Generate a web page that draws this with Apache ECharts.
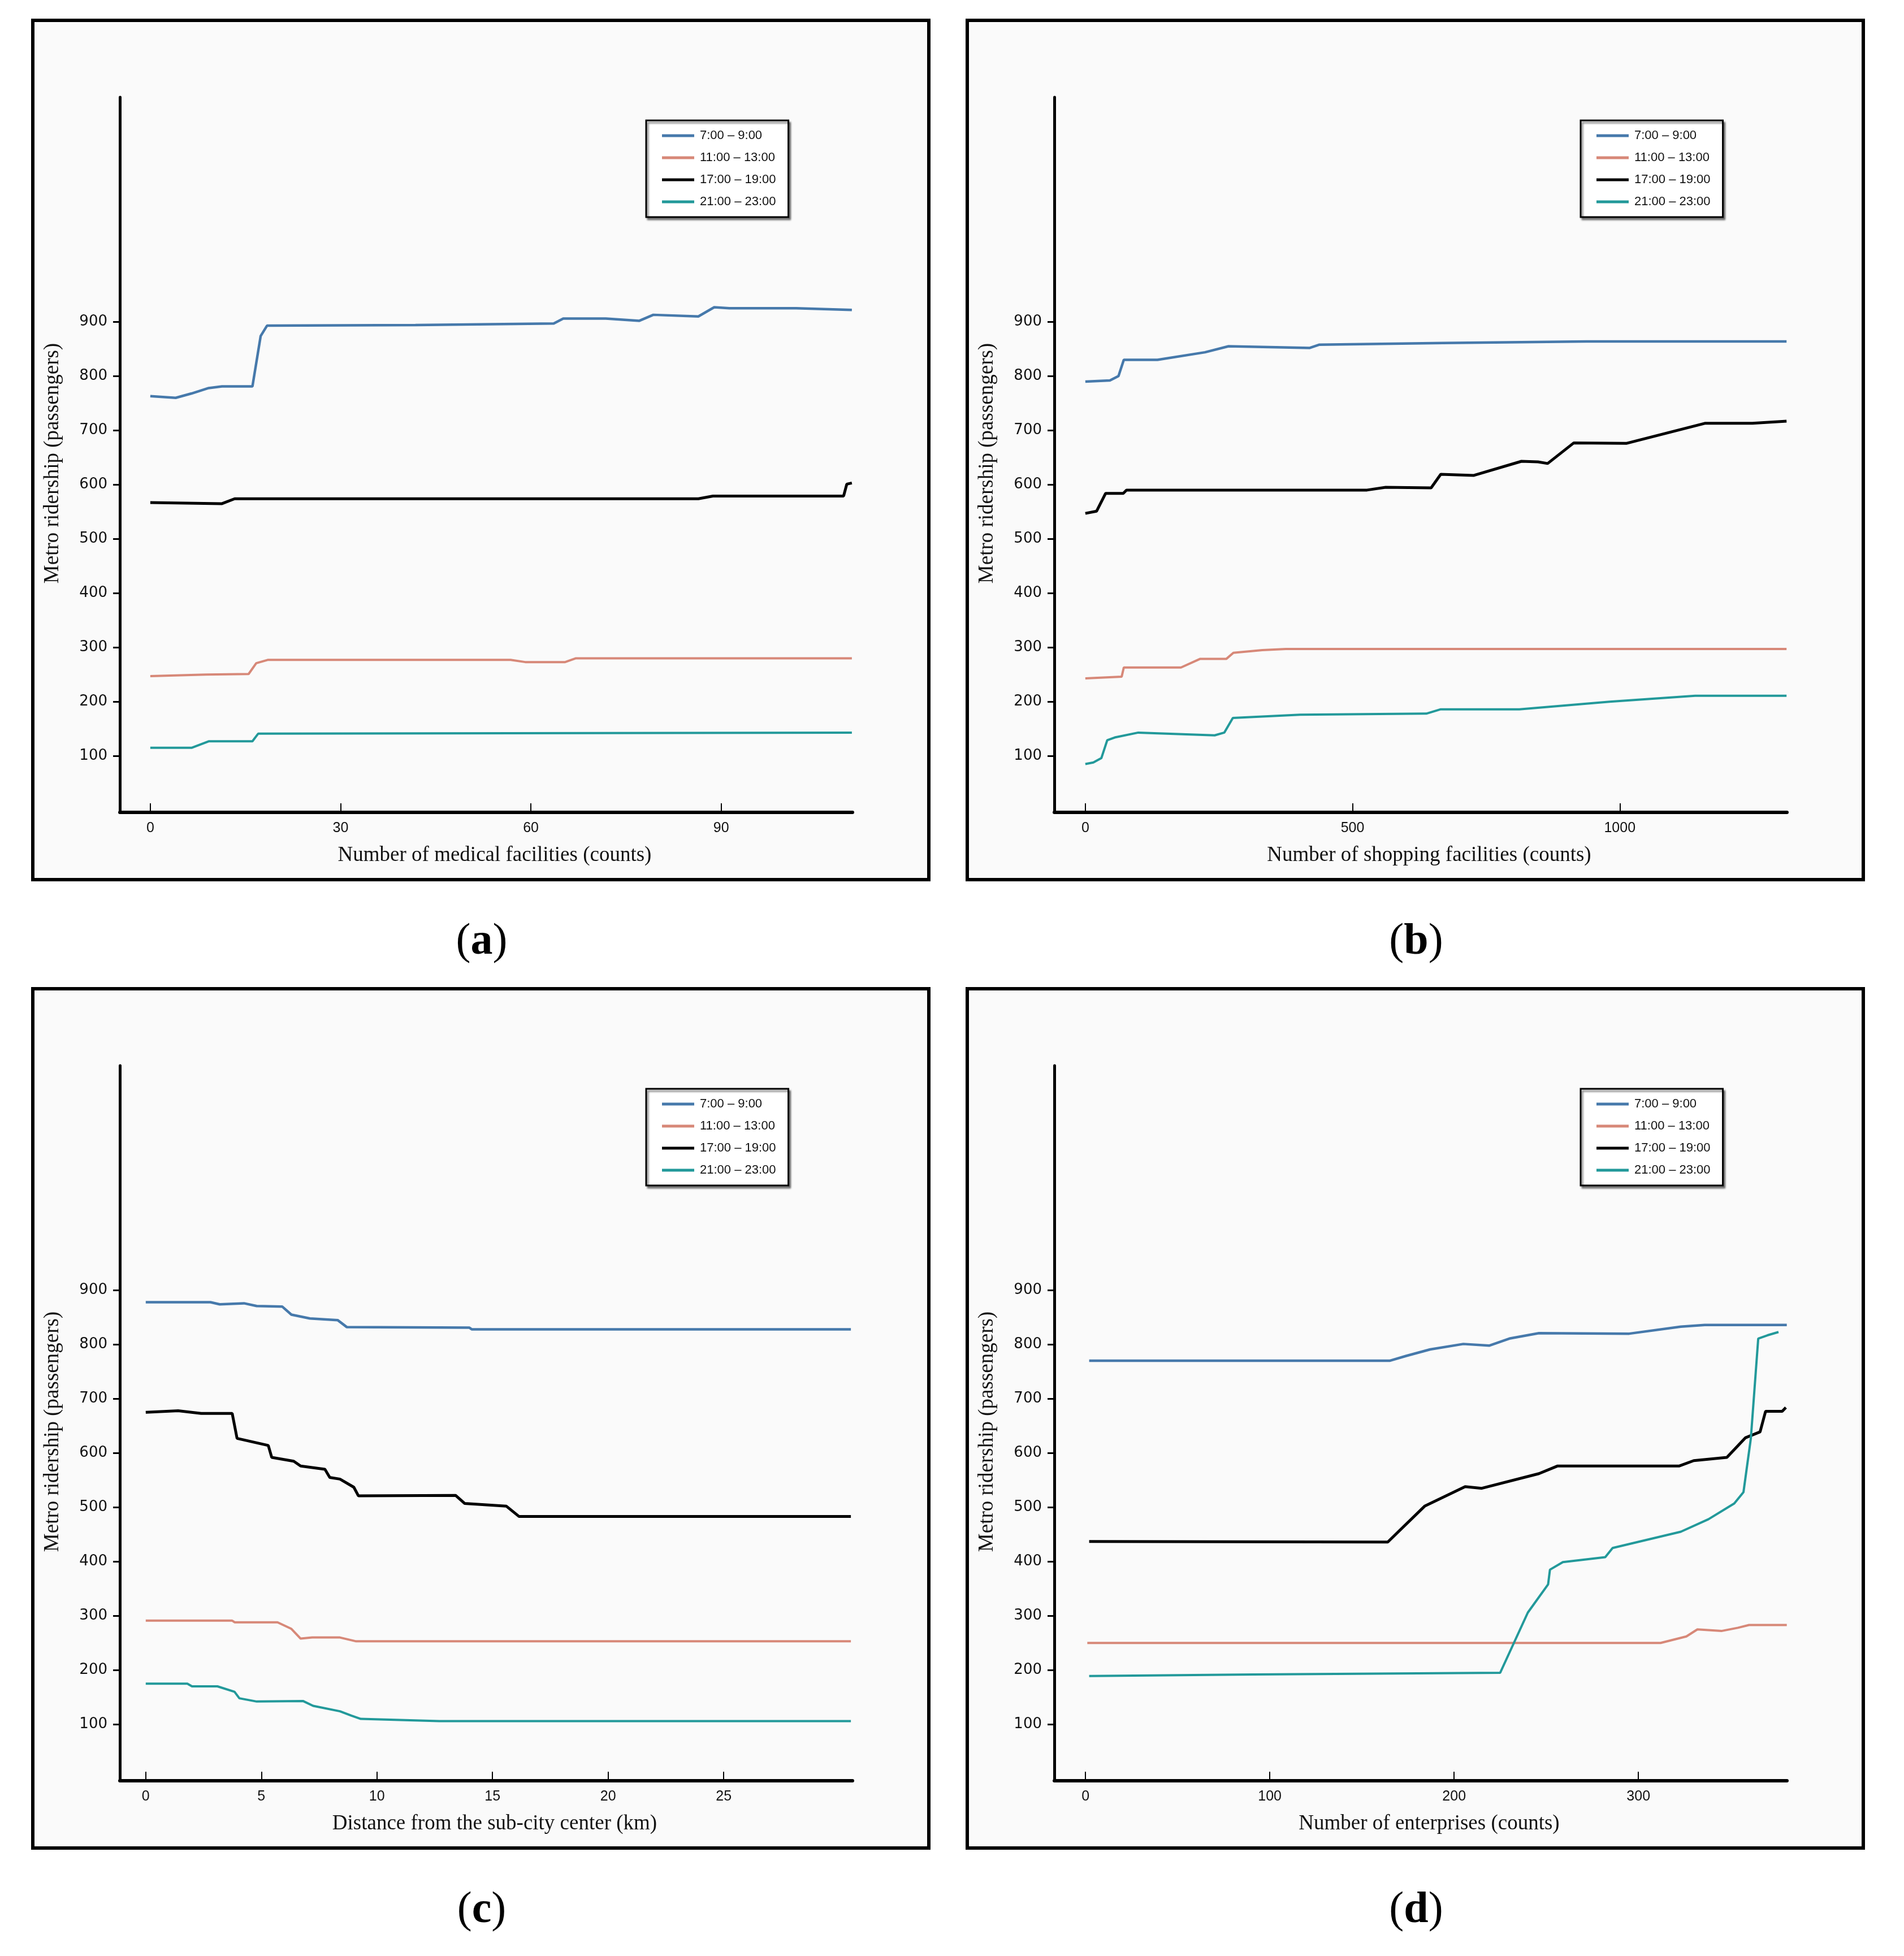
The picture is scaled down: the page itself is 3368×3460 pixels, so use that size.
<!DOCTYPE html>
<html>
<head>
<meta charset="utf-8">
<script src="https://cdn.jsdelivr.net/npm/echarts@6/dist/echarts.min.js"></script>
<style>
html,body{margin:0;padding:0;background:#fff;}
#chart{width:3368px;height:3460px;}
</style>
</head>
<body>
<div id="chart"></div>
<script>
// ---------- DATA ----------
const seriesNames = ['7:00 – 9:00', '11:00 – 13:00', '17:00 – 19:00', '21:00 – 23:00'];
const panelLabels = ['a', 'b', 'c', 'd'];
const xTitles = ['Number of medical facilities (counts)', 'Number of shopping facilities (counts)',
                 'Distance from the sub-city center (km)', 'Number of enterprises (counts)'];
const yTitle = 'Metro ridership (passengers)';
const yTickValues = [100, 200, 300, 400, 500, 600, 700, 800, 900];
const xTicksA = [0, 30, 60, 90];
const xTicksB = [0, 500, 1000];
const xTicksC = [0, 5, 10, 15, 20, 25];
const xTicksD = [0, 100, 200, 300];

// (a) medical facilities
const medBlue = [[0,763],[4,760],[6.5,768],[9.2,778],[11.3,781],[16.1,781],[17.4,874],[18.4,893],[41.8,894],[63.6,897],[65.1,906],[71.8,906],[77.1,902],[79.3,913],[86.4,910],[88.9,927],[91.3,925],[101.8,925],[110.6,922]];
const medSalmon = [[0,247],[8.8,250],[15.5,251],[16.7,271],[18.5,277],[56.8,277],[59.1,273],[65.4,273],[67.1,280],[110.6,280]];
const medBlack = [[0,567],[11.3,565],[13.3,574],[86.4,574],[88.7,579],[109.3,579],[109.8,601],[110.6,603]];
const medTeal = [[0,115],[6.5,115],[9.2,127],[16.1,127],[17,141],[110.6,143]];

// (b) shopping facilities
const shopBlue = [[0,790],[46,792],[62,800],[72,830],[135,830],[224,844],[268,855],[420,852],[438,858],[669,861],[937,864],[1312,864]];
const shopSalmon = [[0,243],[68,246],[72,263],[179,263],[215,279],[264,279],[277,290],[331,295],[375,297],[1312,297]];
const shopBlack = [[0,547],[21,551],[38,584],[71,584],[77,590],[527,590],[562,595],[647,594],[665,619],[727,617],[816,643],[847,642],[865,639],[914,677],[1012,676],[1159,713],[1248,713],[1312,717]];
const shopTeal = [[0,85],[15,88],[30,96],[41,129],[55,134],[99,143],[242,138],[260,143],[276,170],[402,176],[638,178],[665,186],[812,186],[981,200],[1141,211],[1312,211]];

// (c) distance from sub-city center
const distBlue = [[0,878],[2.8,878],[3.2,874],[4.25,876],[4.8,871],[5.9,870],[6.3,855],[7.1,848],[8.3,845],[8.7,832],[14.0,831],[14.1,828],[30.5,828]];
const distSalmon = [[0,291],[3.74,291],[3.85,288],[5.7,288],[6.3,276],[6.7,258],[7.2,260],[8.4,260],[9.1,253],[30.5,253]];
const distBlack = [[0,675],[1.4,678],[2.4,673],[3.74,673],[3.95,627],[5.3,614],[5.45,592],[6.4,585],[6.7,576],[7.75,570],[7.96,555],[8.4,552],[9.0,537],[9.2,521],[13.4,522],[13.8,507],[15.6,502],[16.15,483],[30.5,483]];
const distTeal = [[0,175],[1.8,175],[2.0,170],[3.1,170],[3.84,160],[4.05,148],[4.8,142],[6.8,143],[7.24,134],[8.4,124],[8.9,116],[9.3,110],[12.7,106],[30.5,106]];

// (d) enterprises
const entBlue = [[2,770],[165,770],[174,779],[187,791],[205,801],[219,798],[230,811],[246,821],[295,820],[323,833],[336,836],[380.5,836]];
const entSalmon = [[1,250],[312,250],[326,262],[332,275],[345,272],[354,278],[360,283],[380.5,283]];
const entBlack = [[2,437],[164,436],[184,502],[206,538],[215,535],[246,562],[256,576],[322,576],[330,586],[348,592],[358,628],[366,639],[369,677],[378,677],[380,684]];
const entTeal = [[2,189],[91,192],[225,195],[240,306],[251,358],[252,385],[259,399],[282,408],[286,425],[323,455],[338,478],[352,507],[357,528],[361,627],[365,811],[370,817],[376,823]];

// ---------- STYLE / LAYOUT ----------
const colors = ['#4679ab', '#d78878', '#000000', '#22999a'];
const lineWidths = [4.5, 4, 5, 4];
const panels = [
  {data:[medBlue, medSalmon, medBlack, medTeal], xMin:-4.8, xMax:110.7, ticks:xTicksA, dx:0, dy:0},
  {data:[shopBlue, shopSalmon, shopBlack, shopTeal], xMin:-58, xMax:1312.8, ticks:xTicksB, dx:1653, dy:0},
  {data:[distBlue, distSalmon, distBlack, distTeal], xMin:-1.12, xMax:30.57, ticks:xTicksC, dx:0, dy:1713},
  {data:[entBlue, entSalmon, entBlack, entTeal], xMin:-16.9, xMax:380.6, ticks:xTicksD, dx:1653, dy:1713}
];

const grids = [], xAxes = [], yAxes = [], series = [], legends = [], graphics = [];
panels.forEach((p, i) => {
  grids.push({left: 212 + p.dx, top: 172 + p.dy, width: 1296, height: 1265});
  xAxes.push({
    type:'value', gridIndex:i, min:p.xMin, max:p.xMax,
    axisLine:{show:true, onZero:false, lineStyle:{color:'#000', width:6}},
    axisTick:{show:true, inside:true, length:16, lineStyle:{color:'#000', width:2}, customValues:p.ticks},
    axisLabel:{show:true, customValues:p.ticks, margin:16, fontSize:25, color:'#111', fontFamily:'Liberation Sans',
               formatter:(v) => String(v)},
    splitLine:{show:false},
    name:xTitles[i], nameLocation:'middle', nameGap:58,
    nameTextStyle:{fontFamily:'Liberation Serif', fontSize:37, color:'#111', padding:[0,0,0,30]}
  });
  yAxes.push({
    type:'value', gridIndex:i, min:-4, max:1314,
    axisLine:{show:true, onZero:false, lineStyle:{color:'#000', width:5}},
    axisTick:{show:true, inside:false, length:12, lineStyle:{color:'#000', width:3}, customValues:yTickValues},
    axisLabel:{show:true, customValues:yTickValues, margin:22, fontSize:26, color:'#111', fontFamily:'DejaVu Sans',
               formatter:(v) => String(v)},
    splitLine:{show:false},
    name:yTitle, nameLocation:'middle', nameGap:100,
    nameTextStyle:{fontFamily:'Liberation Serif', fontSize:37, color:'#111', padding:[0,30,0,0]}
  });
  p.data.forEach((d, k) => {
    series.push({
      type:'line', name:seriesNames[k], xAxisIndex:i, yAxisIndex:i, data:d,
      showSymbol:false, symbol:'none', clip:false, z:3,
      lineStyle:{color:colors[k], width:lineWidths[k]}, itemStyle:{color:colors[k]}
    });
  });
  legends.push({
    show:true, orient:'vertical', left:1143 + p.dx, top:213 + p.dy, data:seriesNames,
    icon:'rect', itemWidth:57, itemHeight:5, itemGap:17,
    padding:[16, 22, 16, 28], backgroundColor:'#fff', borderColor:'#000', borderWidth:3,
    shadowColor:'rgba(0,0,0,0.45)', shadowBlur:3, shadowOffsetX:3, shadowOffsetY:4,
    selectedMode:false,
    textStyle:{fontFamily:'Liberation Sans', fontSize:22, color:'#111', lineHeight:22, padding:[0,0,0,5]}
  });
  graphics.push({
    type:'rect', z:-10,
    shape:{x:58 + p.dx, y:36 + p.dy, width:1585, height:1520},
    style:{fill:'#fafafa', stroke:'#000', lineWidth:6}
  });
  graphics.push({
    type:'text', z:10,
    x:852 + p.dx, y:1667 + p.dy,
    style:{
      text:'{p|(}{b|' + panelLabels[i] + '}{p|)}',
      align:'center', verticalAlign:'middle',
      rich:{
        p:{fontFamily:'Liberation Serif', fontSize:78, fill:'#000'},
        b:{fontFamily:'Liberation Serif', fontSize:78, fontWeight:'bold', fill:'#000'}
      }
    }
  });
});

const chart = echarts.init(document.getElementById('chart'), null, {renderer:'canvas'});
chart.setOption({
  animation:false,
  backgroundColor:'#ffffff',
  grid:grids, xAxis:xAxes, yAxis:yAxes, series:series, legend:legends,
  graphic:{elements:graphics}
});
</script>
</body>
</html>
